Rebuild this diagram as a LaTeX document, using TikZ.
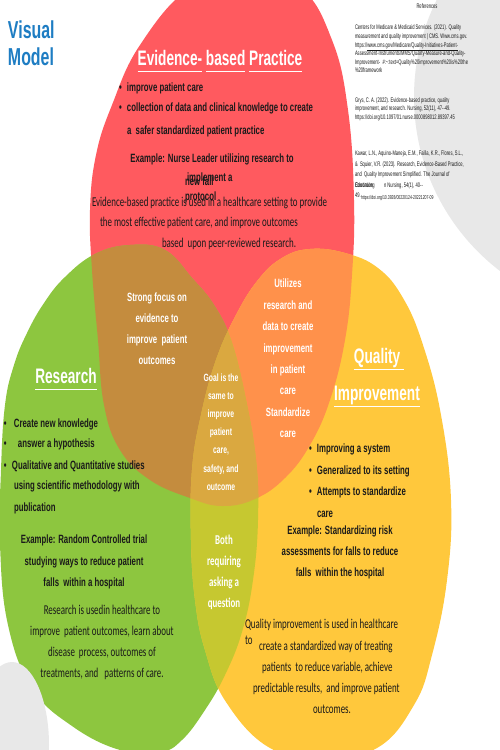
\documentclass[tikz,border=0pt]{standalone}
\usepackage{fontspec}
\setmainfont{Liberation Sans}[FakeStretch=0.65]
\newfontfamily\calfont{Carlito}[FakeStretch=0.66]
\newfontfamily\reffont{Liberation Sans}[FakeStretch=0.62]
\definecolor{redc}{HTML}{FF5A5F}
\definecolor{greenc}{HTML}{8DC63F}
\definecolor{yellowc}{HTML}{FFC83C}
\definecolor{brownc}{HTML}{C48C3E}
\definecolor{orangec}{HTML}{FF914B}
\definecolor{goldc}{HTML}{DAA840}
\definecolor{olivec}{HTML}{C6C830}
\definecolor{grayc}{HTML}{E8E8E8}
\definecolor{bluec}{HTML}{1E7DC3}
\definecolor{ink}{HTML}{1A1A1A}
\newcommand\myul[1]{\underline{#1\vphantom{y}}}
\newcommand\bul[1]{\makebox[#1][l]{\textbullet}}
\def\redP{plot[smooth cycle, tension=0.7] coordinates {(245,-24) (300,-12) (332,40) (348,110) (354,200) (352,275) (345,340) (330,400) (310,445) (285,478) (255,499) (222,506) (190,498) (150,480) (120,450) (104,405) (98,340) (92,270) (90,210) (96,155) (112,105) (140,45) (190,-12)}}
\def\greenP{plot[smooth cycle, tension=0.7] coordinates {(130,245) (165,250) (192,278) (214,305) (231,340) (245,395) (256,460) (258,520) (253,580) (242,632) (225,675) (205,710) (182,740) (160,752) (120,750) (72,726) (32,688) (8,625) (0,545) (1,470) (5,405) (14,365) (27,333) (44,303) (65,277) (95,254)}}
\def\yellowP{plot[smooth cycle, tension=0.7] coordinates {(310,249) (345,253) (378,268) (403,298) (423,345) (441,415) (451,500) (447,580) (432,655) (414,705) (377,748) (323,757) (270,748) (226,702) (205,650) (195,600) (191,540) (192,470) (201,415) (216,360) (236,315) (258,280) (282,258)}}
\begin{document}
\begin{tikzpicture}[x=1pt,y=-1pt,
  t/.style={inner sep=0pt, outer sep=0pt, text=ink},
  lb/.style={t, anchor=base west},
  cb/.style={t, anchor=base},
  bold12/.style={font=\fontsize{12}{14}\selectfont\bfseries},
  boldsm/.style={font=\fontsize{10.5}{12}\selectfont\bfseries},
  titlef/.style={font=\fontsize{21}{24}\selectfont\bfseries, text=white},
  para/.style={font=\calfont\fontsize{13.5}{15}\selectfont},
  parab/.style={font=\calfont\fontsize{13.5}{15}\selectfont\bfseries},
  wt/.style={text=white},
  reft/.style={t, anchor=base west, font=\reffont\fontsize{6.6}{7}\selectfont}]
\useasboundingbox (0,0) rectangle (500,750);
\fill[white] (0,0) rectangle (500,750);
\begin{scope}
\clip (0,0) rectangle (500,750);
% circles
\fill[redc] \redP;
\fill[greenc] \greenP;
\fill[yellowc] \yellowP;
\begin{scope}\clip \redP; \fill[brownc] \greenP; \end{scope}
\begin{scope}\clip \redP; \fill[orangec] \yellowP; \end{scope}
\begin{scope}\clip \greenP; \fill[olivec] \yellowP; \end{scope}
\begin{scope}\clip \redP; \clip \greenP; \fill[goldc] \yellowP; \end{scope}
% gray decorative shapes
\fill[grayc] (633,97) circle [radius=219];
\fill[grayc] (12,745) ellipse [x radius=37, y radius=83];
\end{scope}
% Title
\node[lb, font=\fontsize{24.5}{27}\selectfont\bfseries, text=bluec] (vis) at (8,38) {Visual};
\node[lb, font=\fontsize{24.5}{27}\selectfont\bfseries, text=bluec] (mod) at (8,65) {Model};
% Evidence-based practice
\node[cb, titlef] (ebpt) at (220,65) {\myul{Evidence-} \myul{based} \myul{Practice}};
\node[lb, bold12] (eb1) at (119,91) {\bul{8pt}improve patient care};
\node[lb, bold12] (eb2) at (119,111) {\bul{8pt}collection of data and clinical knowledge to create};
\node[lb, bold12] (eb3) at (127,134) {a\ \ safer standardized patient practice};
\node[cb, bold12] (ebx1) at (212,162) {Example: Nurse Leader utilizing research to};
\node[lb, bold12] (ebx2) at (187,181) {implement a};
\node[lb, bold12] (ebx3) at (185,185) {new fall};
\node[lb, bold12] (ebx4) at (185,200) {protocol};
\node[lb, para] (ebp1) at (92,206) {Evidence-based practice is used in a healthcare setting to provide};
\node[lb, para] (ebp2) at (100,226) {the most effective patient care, and improve outcomes};
\node[lb, para] (ebp3) at (162,247) {based\ \ upon peer-reviewed research.};
% overlaps
\foreach \s [count=\i] in {{Strong focus on},{evidence to},{improve\ \ patient},{outcomes}}
  \node[cb, bold12, wt] (sf\i) at (157,{280+21*\i}) {\s};
\foreach \s [count=\i] in {{Utilizes},{research and},{data to create},{improvement},{in patient},{care},{Standardize},{care}}
  \node[cb, bold12, wt] (ut\i) at (288,{266.5+21.4*\i}) {\s};
\foreach \s [count=\i] in {{Goal is the},{same to},{improve},{patient},{care,},{safety, and},{outcome}}
  \node[cb, boldsm, wt] (gl\i) at (221,{362.8+18.2*\i}) {\s};
\foreach \s [count=\i] in {{Both},{requiring},{asking a},{question}}
  \node[cb, parab, wt] (bo\i) at (224,{523+21*\i}) {\s};
% Research
\node[cb, titlef] (rst) at (66,383) {\myul{Research}};
\node[lb, bold12] (rb1) at (4,427) {\bul{10pt}Create new knowledge};
\node[lb, bold12] (rb2) at (4,447) {\bul{14pt}answer a hypothesis};
\node[lb, bold12] (rb3) at (4,469) {\bul{8pt}Qualitative and Quantitative studies};
\node[lb, bold12] (rb4) at (14,489) {using scientific methodology with};
\node[lb, bold12] (rb5) at (14,511) {publication};
\foreach \s [count=\i] in {{Example: Random Controlled trial},{studying ways to reduce patient},{falls\ \ within a hospital}}
  \node[cb, bold12] (rx\i) at (84,{522+21.5*\i}) {\s};
\foreach \s [count=\i] in {{Research is usedin healthcare to},{improve\ \ patient outcomes, learn about},{disease\ \ process, outcomes of},{treatments, and\ \ \ patterns of care.}}
  \node[cb, para] (rp\i) at (102,{592.7+21.3*\i}) {\s};
% Quality improvement
\node[cb, titlef] (qt1) at (379,363) {\myul{Quality\ }};
\node[cb, titlef] (qt2) at (377,400) {\myul{Improvement}};
\node[lb, bold12] (qb1) at (309,452) {\bul{8pt}Improving a system};
\node[lb, bold12] (qb2) at (309,474) {\bul{8pt}Generalized to its setting};
\node[lb, bold12] (qb3) at (309,495) {\bul{8pt}Attempts to standardize};
\node[lb, bold12] (qb4) at (317,517) {care};
\foreach \s [count=\i] in {{Example: Standardizing risk},{assessments for falls to reduce},{falls\ \ within the hospital}}
  \node[cb, bold12] (qx\i) at (340,{513+21*\i}) {\s};
\node[lb, para] (qp1) at (245,628) {Quality improvement is used in healthcare};
\node[lb, para] (qp2) at (245,644) {to};
\node[lb, para] (qp3) at (259,650) {create a standardized way of treating};
\node[lb, para] (qp4) at (262,671) {patients\ \ to reduce variable, achieve};
\node[lb, para] (qp5) at (253,692) {predictable results,\ \ and improve patient};
\node[lb, para] (qp6) at (313,713) {outcomes.};
% References
\node[t, anchor=base, font=\reffont\fontsize{6.6}{7}\selectfont] (refh) at (427,8) {References};
\node[reft] (r1) at (355,29) {Centers for Medicare \& Medicaid Services. (2021). Quality};
\node[reft] (r2) at (355,38) {measurement and quality improvement | CMS. Www.cms.gov.};
\node[reft] (r3) at (355,47) {https://\underline{www.cms.gov/Medicare/Quality-Initiatives-Patient-}};
\node[reft] (r4) at (355,55) {Assessment-Instruments/MMS/Quality-Measure-and-Quality-};
\node[reft] (r5) at (355,64) {Improvement-\ \ \#:\textasciitilde:text=Quality\%20improvement\%20is\%20the};
\node[reft] (r6) at (355,72) {\%20framework};
\node[reft] (g1) at (355,102) {Grys, C. A. (2022). Evidence-based practice, quality};
\node[reft] (g2) at (355,110) {improvement, and research. Nursing, 52(11), 47--49.};
\node[reft] (g3) at (355,119) {https://doi.org/10.1097/01.nurse.0000898012.89397.45};
\node[reft] (k1) at (355,155) {Kawar, L.N., Aquino-Maneja, E.M., Failla, K.R., Flores, S.L.,};
\node[reft] (k2) at (355,166) {\&\ \ Squier, V.R. (2023). Research, Evidence-Based Practice,};
\node[reft] (k3) at (355,176) {and\ \ Quality Improvement Simplified. The Journal of};
\node[reft] (k4a) at (355,187) {Continuing};
\node[reft] (k4b) at (355,187) {Education};
\node[reft] (k4c) at (384,187) {n Nursing, 54(1), 40--};
\node[reft] (k5a) at (355,197) {49.};
\node[reft, font=\reffont\fontsize{5.6}{6}\selectfont] (k5b) at (361,199) {https://doi.org/10.3928/00220124-20221207-09};
\end{tikzpicture}
\end{document}
